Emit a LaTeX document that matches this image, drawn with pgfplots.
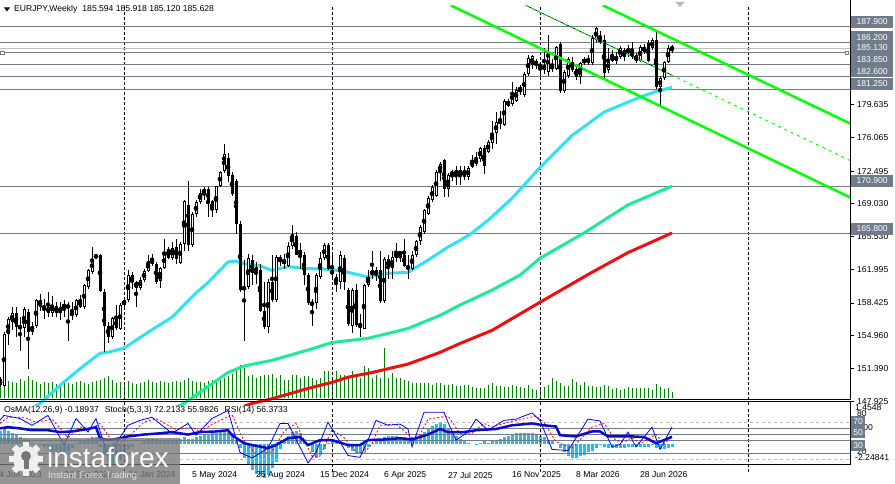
\documentclass[border=0pt]{standalone}
\usepackage{pgfplots}
\pgfplotsset{compat=1.18}
\usepackage{pgfplotstable}
\usepackage{fontspec}
\setmainfont{Liberation Sans}
\newcommand{\mtf}{\fontsize{8.6}{10}\selectfont}
\definecolor{slate}{RGB}{112,124,138}
\definecolor{lgray}{RGB}{192,192,192}
\definecolor{cyanma}{RGB}{50,225,245}
\definecolor{greenma}{RGB}{30,235,150}
\definecolor{redma}{RGB}{235,15,15}
\definecolor{chan}{RGB}{0,255,0}
\definecolor{osmac}{RGB}{40,185,240}
\definecolor{volg}{RGB}{0,128,0}
\definecolor{rsiblue}{RGB}{10,10,205}
\definecolor{logog}{RGB}{118,118,118}

\pgfplotstableread{
k o h l c
0 150.3 150.5 149.5 149.7
1 149.6 155.3 149.5 155.1
2 155.1 156.9 153.9 156.7
3 156.4 158.0 155.5 157.4
4 157.4 158.0 154.8 155.9
5 155.9 156.9 153.3 155.8
6 155.8 158.0 154.8 157.8
7 157.5 157.8 151.4 155.3
8 155.3 156.4 155.0 156.0
9 156.0 158.9 155.7 158.7
10 158.7 159.4 157.6 158.0
11 158.0 158.9 156.7 157.9
12 158.0 159.6 156.9 157.4
13 157.4 159.2 156.9 158.2
14 158.1 158.5 156.9 157.4
15 157.4 158.5 156.6 158.0
16 158.0 158.7 156.9 158.2
17 158.1 158.5 154.4 158.0
18 157.4 158.5 156.6 157.1
19 157.1 158.9 156.9 158.7
20 158.8 159.3 157.9 158.0
21 158.0 160.5 157.8 160.3
22 160.1 162.1 159.9 161.9
23 161.7 164.4 161.5 163.1
24 163.3 163.7 163.1 163.5
25 163.6 163.7 159.6 159.7
26 159.6 159.9 153.2 156.0
27 156.0 156.4 154.2 154.8
28 154.8 156.9 154.6 156.8
29 156.8 158.2 155.5 155.7
30 155.7 158.4 155.5 158.2
31 158.2 158.9 158.0 158.7
32 158.7 161.9 158.5 161.4
33 161.4 161.7 159.9 160.7
34 160.7 160.8 158.0 160.0
35 160.0 161.2 159.8 160.9
36 160.9 162.1 160.7 161.8
37 161.8 163.5 161.7 162.9
38 163.1 163.7 162.4 162.6
39 162.6 162.8 160.5 160.7
40 160.8 162.3 160.0 162.2
41 162.2 165.3 162.1 163.7
42 164.2 164.4 163.1 163.2
43 163.2 164.9 163.0 164.3
44 164.4 165.3 162.6 163.1
45 162.7 164.9 162.6 164.7
46 164.7 169.4 164.0 169.3
47 168.9 171.5 164.0 164.6
48 164.6 168.1 164.4 167.9
49 167.9 169.4 167.6 169.2
50 169.2 170.6 169.0 170.2
51 170.1 170.8 169.4 170.6
52 170.6 170.8 167.6 169.2
53 169.3 169.4 167.6 168.3
54 168.3 170.9 168.0 170.9
55 170.9 172.5 170.8 172.4
56 172.5 175.4 172.3 174.3
57 173.9 174.4 171.3 172.0
58 172.1 172.4 169.9 170.1
59 171.4 171.7 165.8 166.9
60 166.9 167.2 159.6 159.8
61 160.1 163.0 154.4 159.9
62 160.1 163.7 159.9 163.2
63 163.0 163.5 160.3 161.6
64 161.6 162.8 160.5 162.3
65 162.0 162.6 157.5 157.6
66 157.6 160.7 155.7 155.9
67 155.9 161.0 155.2 160.7
68 160.7 163.5 158.5 158.7
69 158.7 163.5 158.5 163.3
70 163.3 163.6 162.4 162.9
71 162.6 163.7 162.1 163.0
72 162.4 164.9 162.3 164.5
73 164.5 166.7 164.2 165.8
74 165.6 166.0 163.5 163.6
75 163.6 164.8 162.1 164.1
76 163.6 163.9 160.3 161.4
77 161.4 161.6 158.2 158.4
78 158.5 158.9 156.0 158.2
79 158.4 161.6 157.8 161.4
80 161.2 163.9 161.0 163.2
81 163.2 164.8 163.0 164.6
82 164.6 164.8 161.9 162.1
83 161.9 163.5 161.0 161.5
84 161.2 161.5 159.6 160.5
85 160.7 164.0 159.9 163.5
86 163.2 163.5 159.8 160.7
87 159.8 160.0 156.0 156.2
88 156.0 160.0 155.2 159.8
89 159.8 160.5 155.9 156.1
90 156.3 157.3 154.8 155.7
91 155.7 160.5 155.7 160.3
92 160.3 161.9 160.1 161.2
93 161.9 164.0 161.0 161.4
94 161.4 162.3 160.8 161.9
95 161.9 164.0 158.4 158.6
96 158.6 163.3 158.4 163.1
97 163.1 163.5 161.0 162.2
98 162.2 164.0 161.0 163.3
99 163.2 164.8 162.8 163.9
100 163.9 164.0 162.8 163.6
101 163.6 165.3 162.3 162.4
102 162.4 163.5 161.0 162.0
103 162.1 164.0 161.9 163.6
104 163.5 165.1 163.3 165.0
105 165.0 166.7 164.6 166.5
106 166.0 168.5 165.8 168.3
107 167.9 169.9 167.8 169.6
108 169.4 171.0 169.2 170.8
109 169.9 172.6 169.7 172.4
110 172.4 173.5 171.5 173.3
111 173.7 173.8 169.7 170.6
112 170.6 172.3 169.7 172.1
113 172.1 172.6 171.5 172.4
114 172.6 173.1 171.0 172.1
115 172.1 173.1 171.0 172.6
116 172.6 173.0 171.6 171.9
117 171.9 173.0 171.6 172.8
118 172.9 174.2 172.8 173.7
119 173.3 174.5 173.1 173.8
120 173.8 175.1 173.5 175.0
121 175.0 175.3 172.2 173.1
122 174.5 175.8 174.4 175.6
123 175.5 177.9 174.9 176.6
124 176.6 178.8 175.4 177.7
125 177.9 178.9 177.0 177.6
126 177.4 180.2 177.3 180.0
127 179.5 180.2 179.3 180.0
128 179.7 182.0 179.5 181.0
129 180.0 181.5 179.9 181.2
130 181.0 181.7 180.6 181.5
131 180.6 183.1 180.4 182.9
132 182.9 184.9 182.7 184.6
133 183.8 184.9 183.4 184.8
134 184.3 184.5 183.4 183.8
135 183.9 184.2 182.7 183.6
136 183.8 185.6 182.9 183.3
137 183.1 187.0 182.7 185.2
138 183.8 184.5 183.1 183.4
139 183.4 185.9 183.3 185.8
140 186.1 186.3 180.8 181.1
141 181.1 183.3 180.8 183.1
142 182.7 184.7 182.4 184.5
143 184.2 184.7 183.1 183.3
144 183.4 183.8 182.2 182.6
145 182.6 184.2 181.8 184.0
146 184.0 184.7 183.8 184.5
147 184.0 184.9 183.8 184.6
148 184.0 187.0 183.8 186.7
149 186.5 187.9 186.3 187.8
150 186.3 187.5 186.1 186.7
151 186.5 187.0 182.2 183.0
152 183.3 185.6 183.0 184.2
153 184.3 185.4 184.2 184.9
154 184.8 185.2 183.9 184.3
155 184.7 185.9 184.5 185.7
156 184.7 185.6 184.3 185.4
157 185.6 186.0 184.7 185.1
158 185.4 186.3 184.5 184.7
159 184.9 185.1 184.0 184.3
160 184.3 186.0 184.2 185.8
161 185.2 186.1 185.0 185.8
162 186.2 186.5 184.2 184.3
163 185.6 186.7 185.4 186.5
164 186.5 187.4 181.3 181.5
165 181.5 182.7 179.6 182.4
166 182.4 184.3 182.2 184.2
167 184.2 186.0 184.0 185.6
168 185.594 185.918 185.120 185.628
}\candles

\pgfplotstableread[row sep=\\]{k v\\
0 15\\1 16\\2 17\\3 16\\4 15\\5 19\\6 17\\7 22\\8 18\\9 16\\10 14\\
11 16\\12 15\\13 16\\14 14\\15 15\\16 16\\17 15\\18 14\\19 16\\20 17\\
21 15\\22 14\\23 16\\24 17\\25 18\\26 20\\27 22\\28 18\\29 15\\30 16\\
31 16\\32 17\\33 15\\34 14\\35 15\\36 16\\37 18\\38 16\\39 15\\40 17\\
41 16\\42 15\\43 16\\44 17\\45 16\\46 18\\47 20\\48 17\\49 16\\50 16\\
51 15\\52 17\\53 18\\54 16\\55 18\\56 20\\57 22\\58 24\\59 30\\
60 33\\61 30\\62 22\\63 23\\64 20\\65 22\\66 23\\67 23\\68 24\\69 20\\
70 23\\71 18\\72 18\\73 23\\74 23\\75 20\\76 22\\77 22\\78 20\\79 18\\
80 20\\81 27\\82 27\\83 20\\84 27\\85 23\\86 23\\87 20\\88 27\\89 22\\
90 20\\91 32\\92 30\\93 20\\94 23\\95 20\\96 50\\97 20\\98 25\\99 20\\
100 20\\101 18\\102 17\\103 15\\104 15\\105 15\\106 15\\107 15\\108 13\\109 15\\
110 15\\111 13\\112 13\\113 14\\114 12\\
115 12\\116 13\\117 13\\118 11\\119 10\\120 10\\121 10\\122 13\\123 15\\124 12\\
125 12\\126 11\\127 11\\128 13\\129 12\\130 11\\131 10\\132 13\\133 9\\134 8\\
135 10\\136 11\\137 13\\138 20\\139 17\\140 15\\141 12\\142 12\\143 19\\144 16\\
145 13\\146 16\\147 12\\148 12\\149 11\\150 11\\151 13\\152 12\\153 9\\154 10\\
155 8\\156 9\\157 11\\158 10\\159 10\\160 10\\161 10\\162 10\\163 8\\164 14\\
165 11\\166 9\\167 10\\168 6\\
}\volume

\pgfplotstableread[row sep=\\]{k v\\
0 1.0\\1 1.1\\2 1.0\\3 0.8\\4 0.7\\5 0.5\\6 0.4\\7 0.2\\
8 0.1\\9 0.0\\10 -0.1\\11 -0.2\\
12 -0.4\\13 -0.6\\14 -0.7\\15 -0.8\\16 -0.7\\17 -0.5\\18 -0.3\\
19 0.1\\20 0.2\\21 0.3\\22 0.4\\23 0.5\\24 0.5\\
25 -0.2\\26 -0.8\\27 -1.3\\28 -1.5\\29 -1.4\\30 -1.1\\31 -0.7\\
32 -0.4\\33 -0.2\\34 0.0\\35 0.1\\
36 0.3\\37 0.4\\38 0.4\\39 0.4\\40 0.3\\41 0.3\\42 0.3\\43 0.3\\44 0.3\\45 0.4\\46 0.5\\47 0.4\\
48 0.4\\49 0.5\\50 0.6\\51 0.7\\52 0.7\\53 0.8\\54 0.8\\55 0.9\\56 0.9\\57 0.9\\58 0.8\\
59 0.3\\60 -0.3\\61 -1.0\\62 -1.5\\63 -1.9\\64 -2.2\\65 -2.4\\66 -2.5\\67 -2.3\\68 -1.8\\69 -1.3\\
70 -0.4\\71 0.2\\72 0.6\\73 0.9\\74 1.0\\75 0.8\\76 0.4\\77 0.0\\
78 -0.6\\79 -1.0\\80 -0.8\\81 -0.4\\
82 0.1\\83 0.3\\84 0.3\\85 0.2\\86 0.0\\
87 -0.3\\88 -0.5\\89 -0.7\\90 -0.7\\91 -0.5\\92 -0.2\\
93 0.1\\94 0.3\\95 0.4\\96 0.5\\97 0.6\\98 0.6\\99 0.6\\100 0.5\\101 0.5\\102 0.4\\103 0.4\\104 0.5\\105 0.7\\106 0.9\\107 1.1\\108 1.3\\109 1.5\\110 1.6\\111 1.5\\
112 1.2\\113 0.9\\114 0.6\\115 0.4\\116 0.2\\117 0.1\\
118 0.0\\119 -0.1\\120 0.1\\121 0.2\\122 0.1\\123 0.2\\124 0.3\\
125 0.4\\126 0.5\\127 0.6\\128 0.7\\129 0.8\\130 0.8\\131 0.8\\132 0.8\\133 0.8\\134 0.7\\135 0.6\\
136 0.5\\137 0.3\\138 0.2\\139 0.0\\
140 -0.3\\141 -0.6\\142 -0.9\\143 -1.0\\144 -1.0\\145 -0.9\\146 -0.8\\147 -0.6\\148 -0.5\\149 -0.3\\
150 -0.1\\151 -0.2\\152 -0.3\\153 -0.3\\154 -0.3\\155 -0.3\\156 -0.3\\157 -0.2\\158 -0.2\\159 -0.2\\160 -0.2\\161 -0.2\\162 -0.2\\163 -0.1\\164 -0.3\\165 -0.4\\166 -0.4\\167 -0.3\\168 -0.19\\
}\osmatab

\pgfplotstableread[row sep=\\]{k v\\
0 83\\1 91\\5 86\\8 75\\12 91\\16 43\\19 86\\22 64\\24 86\\27 26\\32 75\\35 83\\38 88\\43 62\\47 78\\49 59\\53 86\\57 99\\60 31\\63 22\\67 38\\70 78\\72 78\\77 14\\79 31\\82 80\\85 48\\87 26\\90 23\\92 51\\94 83\\97 75\\100 77\\102 69\\103 40\\106 96\\111 96\\112 80\\114 51\\117 64\\119 85\\122 67\\126 83\\129 85\\133 95\\135 83\\138 36\\142 34\\147 85\\150 82\\153 40\\155 44\\157 64\\159 40\\163 72\\165 36\\168 72.2\\
}\stochmain

\pgfplotstableread[row sep=\\]{k v\\
0 78\\2 88\\6 88\\9 80\\13 85\\17 55\\20 72\\23 70\\25 78\\29 40\\33 62\\36 80\\39 86\\44 68\\48 72\\50 65\\54 80\\58 92\\61 50\\64 28\\68 32\\71 65\\74 78\\78 25\\80 25\\83 68\\86 55\\89 32\\91 30\\93 45\\95 75\\99 77\\103 55\\105 60\\107 85\\112 90\\115 62\\118 62\\121 78\\123 72\\127 80\\130 84\\134 90\\136 80\\139 48\\143 38\\148 72\\151 78\\154 50\\156 48\\158 55\\160 45\\164 60\\166 45\\168 56\\
}\stochsig

\pgfplotstableread[row sep=\\]{k v\\
0 70\\2 72\\5 70\\8 67\\12 67\\15 64\\18 65\\22 69\\24 72\\25 54\\27 51\\30 54\\32 57\\36 60\\40 62\\43 64\\47 60\\50 64\\54 65\\57 67\\58 59\\61 46\\63 43\\67 38\\69 43\\72 54\\75 56\\77 43\\80 51\\83 51\\87 43\\90 43\\92 51\\96 52\\100 54\\103 52\\107 60\\110 69\\112 64\\116 64\\119 67\\124 69\\128 75\\133 78\\136 75\\139 73\\140 59\\144 57\\148 65\\150 65\\152 57\\158 57\\161 56\\164 46\\166 51\\168 56.4\\
}\rsitab

\pgfplotstableread[row sep=\\]{k v\\
8 147.2\\10 147.7\\16 150.0\\20 151.4\\25 153.05\\27 153.16\\31 153.6\\37 155.3\\43 156.9\\46 158.2\\49 159.5\\52 160.6\\57 162.8\\59 162.9\\61 162.6\\65 162.4\\68 161.9\\72 162.3\\77 162.1\\83 162.0\\87 161.7\\92 161.2\\97 161.6\\102 161.7\\107 163.0\\112 164.4\\115 165.1\\118 165.9\\122 167.25\\128 169.6\\131 171.0\\135 172.9\\143 176.3\\151 178.8\\160 180.4\\164 181.0\\168 181.45\\
}\maA

\pgfplotstableread[row sep=\\]{k v\\
44 147.3\\46 147.7\\57 151.0\\61 151.7\\68 152.3\\77 153.4\\83 154.2\\92 154.65\\102 155.7\\110 157.1\\115 158.2\\123 159.8\\130 161.4\\135 163.2\\146 165.9\\157 168.9\\168 170.9\\
}\maB

\pgfplotstableread[row sep=\\]{k v\\
61 147.4\\63 147.7\\68 148.2\\77 149.3\\83 149.95\\87 150.5\\93 151.0\\102 151.9\\110 153.15\\115 154.1\\123 155.5\\135 158.5\\148 161.7\\157 163.8\\168 165.9\\
}\maC

\begin{document}
\begin{tikzpicture}[x=1pt,y=1pt]
\useasboundingbox (0,0) rectangle (895,484);
\fill[white] (0,0) rectangle (895,484);
\begin{scope}
\clip (0,0) rectangle (895,484);

% volume
\begin{axis}[at={(0,84)},anchor=south west,width=850pt,height=400pt,scale only axis,
  xmin=0,xmax=212.5,ymin=-2,ymax=398,hide axis,clip=true]
\addplot[ycomb,volg,line width=1pt,mark=none] table[x=k,y=v]{\volume};
\end{axis}

% main price panel
\begin{axis}[at={(0,84)},anchor=south west,width=850pt,height=400pt,scale only axis,
  xmin=0,xmax=212.5,ymin=147.498,ymax=190.205,
  axis line style={draw=none},
  xtick={31,83,135,187},xticklabels={},x tick style={draw=none},
  xmajorgrids,major grid style={black,dash pattern=on 3pt off 2pt,line width=0.8pt},
  ytick={147.925,151.39,154.96,158.425,161.995,165.53,169.03,172.495,176.065,179.635},
  yticklabels={147.925,151.390,154.960,158.425,161.995,165.530,169.030,172.495,176.065,179.635},
  yticklabel pos=right,
  y tick style={black,line width=0.8pt},tick align=outside,major tick length=4pt,
  yticklabel style={font=\mtf,anchor=west,inner sep=0pt,xshift=3pt},
  clip=true]
\addplot[lgray,line width=1pt] coordinates {(0,185.628)(212.5,185.628)};
\addplot[slate,line width=1pt] coordinates {(0,187.9)(212.5,187.9)};
\addplot[slate,line width=1pt] coordinates {(0,186.2)(212.5,186.2)};
\addplot[slate,line width=1pt,mark=square*,mark size=1.6pt,mark options={fill=white,draw=slate}] coordinates {(0.6,185.13)(211.7,185.13)};
\addplot[slate,line width=1pt] coordinates {(0,183.85)(212.5,183.85)};
\addplot[slate,line width=1pt] coordinates {(0,182.6)(212.5,182.6)};
\addplot[slate,line width=1pt] coordinates {(0,181.25)(212.5,181.25)};
\addplot[slate,line width=1pt] coordinates {(0,170.9)(212.5,170.9)};
\addplot[slate,line width=1pt] coordinates {(0,165.8)(212.5,165.8)};
% moving averages
\addplot[redma,line width=3pt] table[x=k,y=v]{\maC};
\addplot[greenma,line width=3pt] table[x=k,y=v]{\maB};
\addplot[cyanma,line width=3pt] table[x=k,y=v]{\maA};
% candles: wicks
\addplot[only marks,mark=none,
  error bars/.cd,y dir=both,y explicit,error mark=none,
  error bar style={black,line width=1pt}]
  table[x=k,y expr={(\thisrow{h}+\thisrow{l})/2},y error expr={(\thisrow{h}-\thisrow{l})/2}]{\candles};
% bodies
\addplot[only marks,mark=none,
  error bars/.cd,y dir=both,y explicit,error mark=none,
  error bar style={black,line width=3pt,line cap=butt}]
  table[x=k,y expr={(\thisrow{o}+\thisrow{c})/2},y error expr={max(abs(\thisrow{c}-\thisrow{o})/2,0.06)}]{\candles};
\addplot[only marks,mark=none,
  error bars/.cd,y dir=both,y explicit,error mark=none,
  error bar style={white,line width=1pt,line cap=butt}]
  table[x=k,y expr={(\thisrow{o}+\thisrow{c})/2},y error expr={(\thisrow{c}>\thisrow{o}) ? max((\thisrow{c}-\thisrow{o})/2-0.107,0) : 0}]{\candles};
% channel
\addplot[chan,line width=2.5pt] coordinates {(150.7,190.205)(212.5,177.6)};
\addplot[chan,line width=2.5pt] coordinates {(112.7,190.205)(212.5,169.705)};
\addplot[black,line width=0.6pt] coordinates {(131.4,190.205)(168,182.74)};
\addplot[chan,line width=0.9pt,dash pattern=on 3pt off 4pt] coordinates {(131.4,190.205)(212.5,173.65)};
\end{axis}

% OsMA histogram
\begin{axis}[at={(0,19)},anchor=south west,width=850pt,height=63pt,scale only axis,
  xmin=0,xmax=212.5,ymin=-2.77,ymax=1.896,hide axis,clip=true]
\addplot[ycomb,osmac,line width=3pt,mark=none] table[x=k,y=v]{\osmatab};
\end{axis}

% Stoch + RSI
\begin{axis}[at={(0,19)},anchor=south west,width=850pt,height=63pt,scale only axis,
  xmin=0,xmax=212.5,ymin=-1.13,ymax=100.97,
  axis line style={draw=none},
  xtick={31,83,135,187},xticklabels={},x tick style={draw=none},ytick=\empty,
  xmajorgrids,major grid style={black,dash pattern=on 3pt off 2pt,line width=0.8pt},
  clip=true]
\addplot[lgray,line width=0.8pt,dash pattern=on 3pt off 3pt] coordinates {(0,80)(212.5,80)};
\addplot[lgray,line width=0.8pt,dash pattern=on 3pt off 3pt] coordinates {(0,20)(212.5,20)};
\addplot[slate,line width=1pt] coordinates {(0,70)(212.5,70)};
\addplot[slate,line width=1pt] coordinates {(0,59.5)(212.5,59.5)};
\addplot[slate,line width=1pt] coordinates {(0,50)(212.5,50)};
\addplot[slate,line width=1pt] coordinates {(0,30)(212.5,30)};
\addplot[red,line width=0.8pt,dash pattern=on 2pt off 2pt] table[x=k,y=v]{\stochsig};
\addplot[blue,line width=0.8pt] table[x=k,y=v]{\stochmain};
\addplot[rsiblue,line width=2.5pt] table[x=k,y=v]{\rsitab};
\end{axis}

% frames
\draw[black,line width=1pt] (0,84.5) -- (850,84.5) -- (850,484);
\draw[black,line width=1pt] (0,82) -- (850,82) -- (850,19) -- (0,19);

% title
\fill[black] (4,476.5) -- (10,476.5) -- (7,472.5) -- cycle;
\node[anchor=west,font=\mtf,inner sep=0pt] at (14,474.5) {EURJPY,Weekly\hspace{5pt}185.594 185.918 185.120 185.628};
\fill[gray!55] (675,482) -- (685,482) -- (680,477) -- cycle;

% lower header
\node[anchor=west,font=\mtf,inner sep=0pt] at (4,73.5) {OsMA(12,26,9) -0.18937\hspace{6pt}Stoch(5,3,3) 72.2133 55.9826\hspace{6pt}RSI(14) 56.3733};

% price boxes
\foreach \yy/\tt in {462.4/187.900,446.5/186.200,436.5/185.130,424.5/183.850,412.8/182.600,400.1/181.250,303.2/170.900,255.4/165.800}{
  \node[fill=slate,text=white,font=\mtf,inner sep=0pt,minimum width=42pt,minimum height=12pt,anchor=west] at (851,\yy) {\tt};
}

% lower panel right labels
\node[anchor=west,font=\mtf,inner sep=0pt] at (857,70.5) {80};
\node[anchor=west,font=\mtf,inner sep=0pt] at (855,76.5) {1.4548};
\node[anchor=west,font=\mtf,inner sep=0pt] at (856,56.4) {0.00};
\node[anchor=west,font=\mtf,inner sep=0pt] at (857,32) {20};
\node[anchor=west,font=\mtf,inner sep=0pt] at (855,26) {-2.24841};
\foreach \yy/\tt in {62.3/70,51/50,38/30}{
  \node[fill=slate,text=white,font=\mtf,inner sep=0pt,minimum width=14pt,minimum height=11pt,anchor=west] at (851,\yy) {\tt};
}

% date labels
\foreach \xx/\tt in {-1/4 Jun 2023,64/24 Sep 2023,128/14 Jan 2024,192/5 May 2024,256/25 Aug 2024,320/15 Dec 2024,384/6 Apr 2025,448/27 Jul 2025,512/16 Nov 2025,576/8 Mar 2026,640/28 Jun 2026}{
  \node[anchor=west,font=\mtf,inner sep=0pt] at (\xx,9) {\tt};
}

% logo
\fill[logog,opacity=0.78] (0,0) rectangle (180,46);
\begin{scope}[shift={(26,25)}]
\fill[white!88!gray] (0,0) circle (13pt);
\foreach \a in {0,45,...,315}{\fill[white!88!gray,rotate=\a] (-3.2,11) rectangle (3.2,17);}
\fill[logog] (0,3) circle (5pt);
\fill[logog] (-2.5,3) rectangle (2.5,-10);
\end{scope}
\node[anchor=west,font=\fontsize{28}{30}\selectfont,text=white!95!gray,inner sep=0pt] at (47,27) {instaforex};
\node[anchor=west,font=\fontsize{9.4}{10}\selectfont,text=gray!25,inner sep=0pt] at (48,8) {Instant Forex Trading};
\end{scope}
\end{tikzpicture}
\end{document}
